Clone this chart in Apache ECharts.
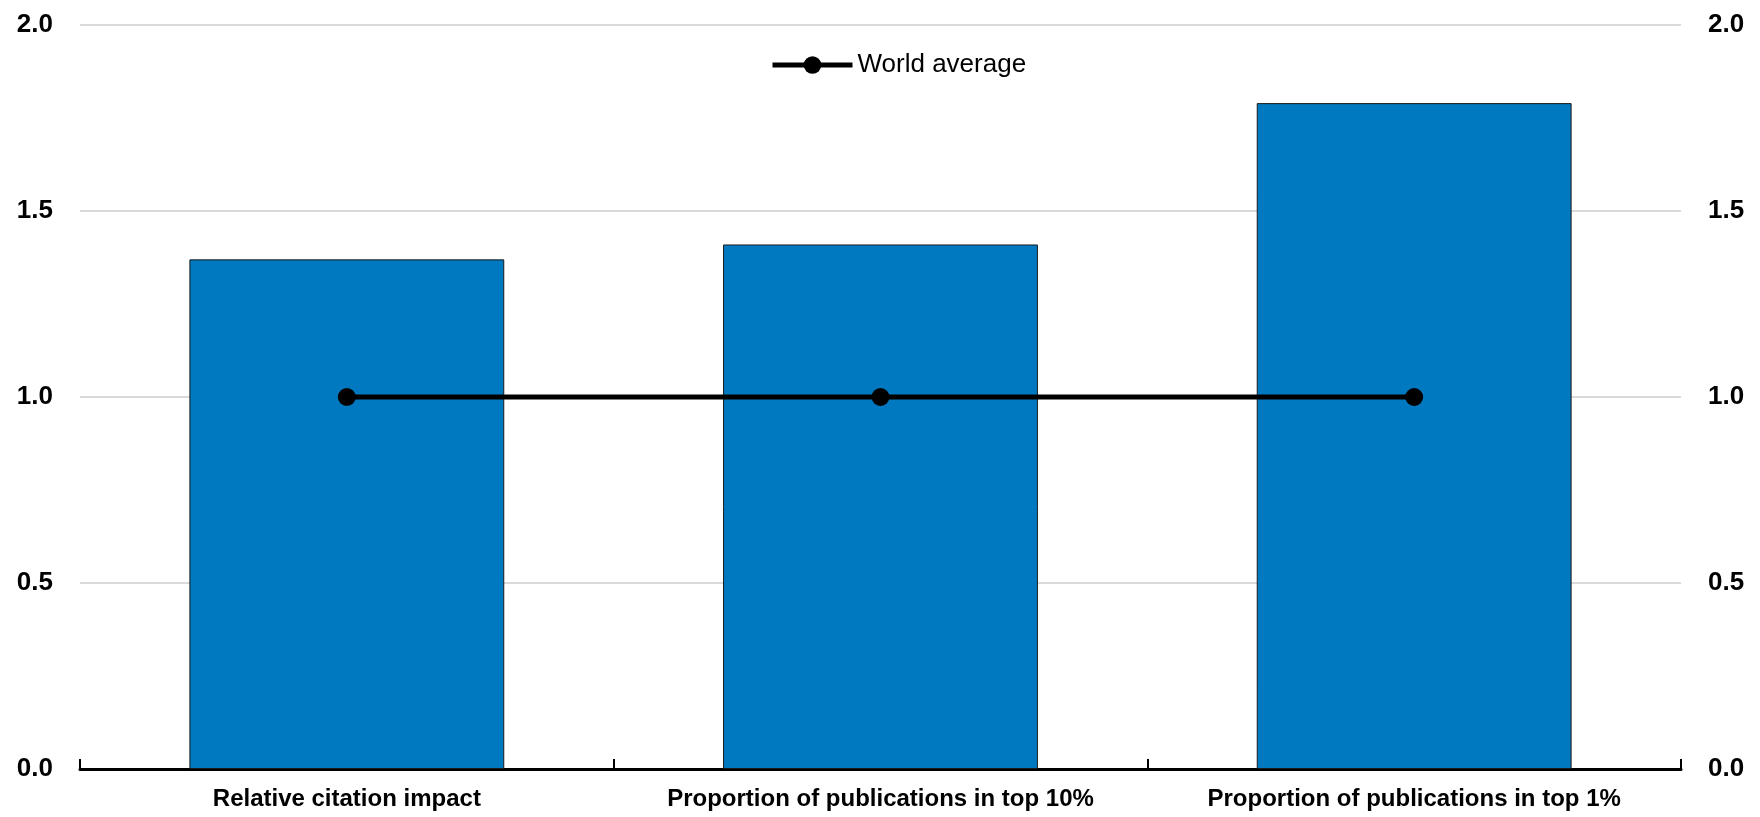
<!DOCTYPE html>
<html>
<head>
<meta charset="utf-8">
<script src="https://cdn.jsdelivr.net/npm/echarts@6/dist/echarts.min.js"></script>
<style>
html,body{margin:0;padding:0;background:#fff;}
#chart{width:1760px;height:817px;}
</style>
</head>
<body>
<div id="chart"></div>
<script>
const categories = ['Relative citation impact', 'Proportion of publications in top 10%', 'Proportion of publications in top 1%'];
const countryValues = [1.37, 1.41, 1.79];
const worldAverage = [1.0, 1.0, 1.0];
const yTicks = { min: 0, max: 2, interval: 0.5 };

const FONT = '"Liberation Sans Narrow", "Arial Narrow", "Liberation Sans", Arial, sans-serif';
const chart = echarts.init(document.getElementById('chart'));
chart.setOption({
  animation: false,
  backgroundColor: '#fff',
  grid: { left: 80, right: 79, top: 25, bottom: 48, containLabel: false },
  legend: {
    data: ['World average'],
    left: 765, top: 47,
    itemWidth: 80, itemHeight: 22, itemGap: 10,
    lineStyle: { width: 5 },
    textStyle: { fontFamily: FONT, fontSize: 26, color: '#000' }
  },
  xAxis: {
    type: 'category',
    data: categories,
    axisLine: { show: true, lineStyle: { color: '#000', width: 3 } },
    axisTick: { show: true, inside: true, length: 10, lineStyle: { color: '#000', width: 2 } },
    axisLabel: { interval: 0, margin: 18, fontFamily: FONT, fontSize: 24, fontWeight: 'bold', color: '#000' },
    splitLine: { show: false }
  },
  yAxis: [
    {
      type: 'value', min: yTicks.min, max: yTicks.max, interval: yTicks.interval,
      axisLine: { show: false }, axisTick: { show: false },
      axisLabel: { margin: 27, fontFamily: FONT, fontSize: 26, fontWeight: 'bold', color: '#000',
        formatter: v => v.toFixed(1) },
      splitLine: { show: true, lineStyle: { color: '#d9d9d9', width: 2 } }
    },
    {
      type: 'value', position: 'right', min: yTicks.min, max: yTicks.max, interval: yTicks.interval,
      axisLine: { show: false }, axisTick: { show: false },
      axisLabel: { margin: 27, fontFamily: FONT, fontSize: 26, fontWeight: 'bold', color: '#000',
        formatter: v => v.toFixed(1) },
      splitLine: { show: false }
    }
  ],
  series: [
    {
      name: 'Country', type: 'bar', data: countryValues, barWidth: '59%',
      itemStyle: { color: '#0079C0', borderColor: '#1a1a1a', borderWidth: 1 },
      z: 2
    },
    {
      name: 'World average', type: 'line', data: worldAverage,
      symbol: 'circle', symbolSize: 18,
      lineStyle: { color: '#000', width: 5 },
      itemStyle: { color: '#000' },
      z: 3
    }
  ]
});
</script>
</body>
</html>
